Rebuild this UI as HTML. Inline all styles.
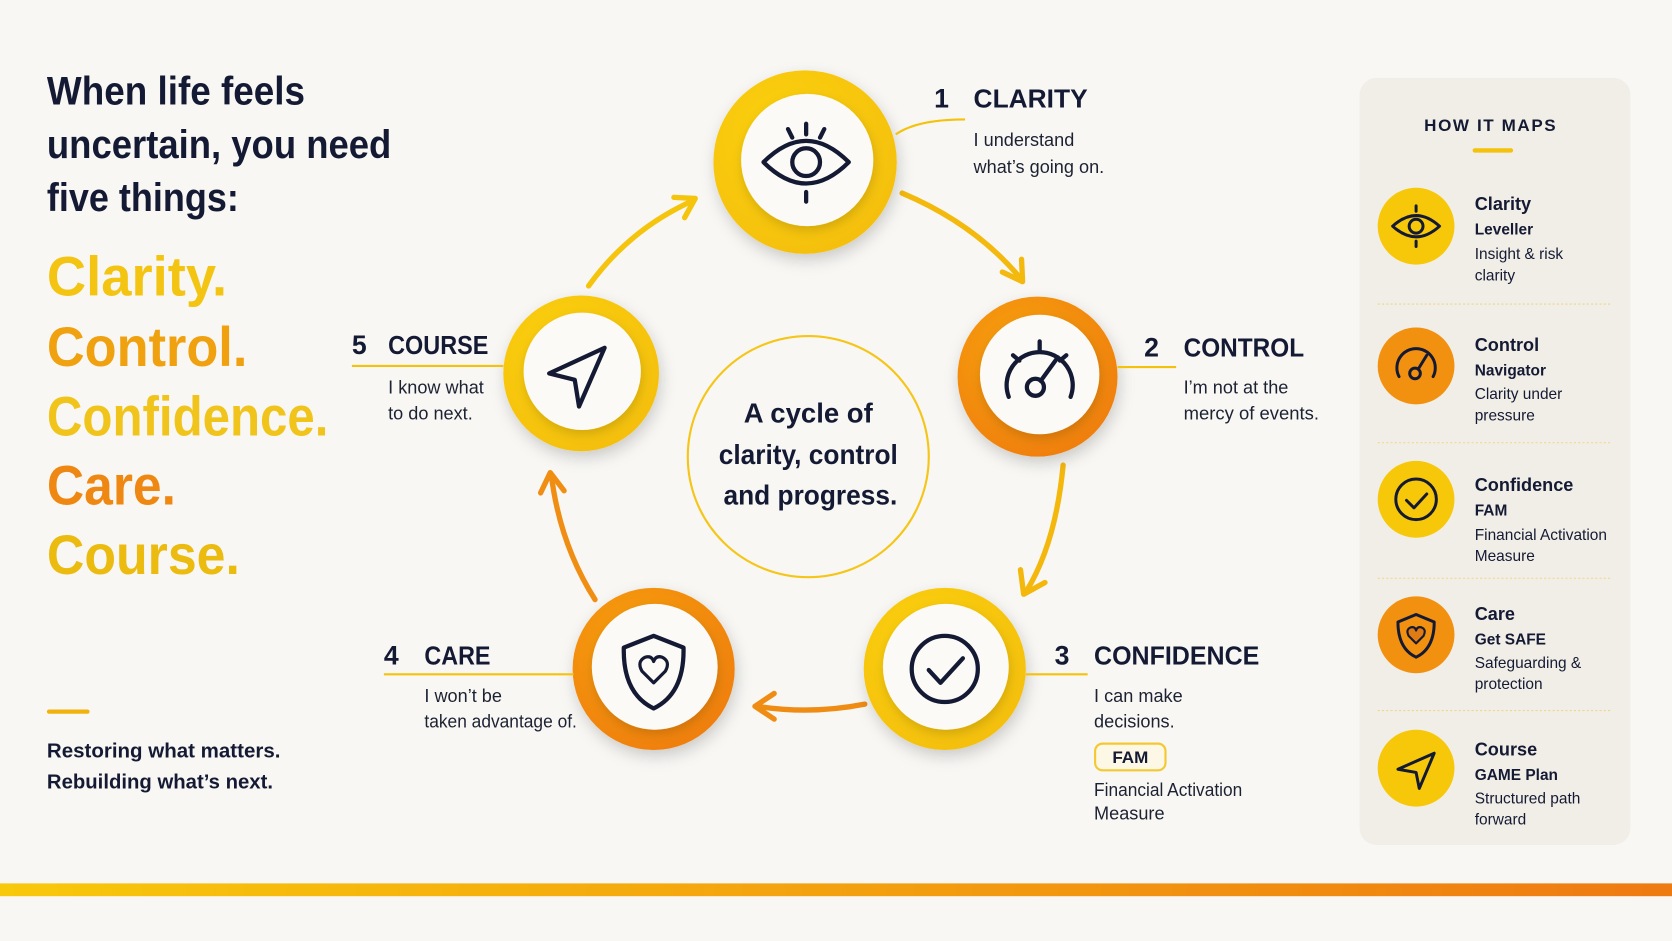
<!DOCTYPE html>
<html><head><meta charset="utf-8"><style>
html,body{margin:0;padding:0;background:#f8f7f4;}
svg{display:block;}
text{font-family:"Liberation Sans",sans-serif;}
</style></head><body>
<svg width="1672" height="941" viewBox="0 0 1568 882" preserveAspectRatio="none" xmlns="http://www.w3.org/2000/svg">
<defs>
<filter id="sh" x="-30%" y="-30%" width="160%" height="160%"><feDropShadow dx="2" dy="6" stdDeviation="7" flood-color="#000" flood-opacity="0.18"/></filter>
<filter id="sh2" x="-30%" y="-30%" width="160%" height="160%"><feDropShadow dx="1" dy="4" stdDeviation="5" flood-color="#000" flood-opacity="0.15"/></filter>
<linearGradient id="bar" x1="0" x2="1"><stop offset="0" stop-color="#f8c80a"/><stop offset="1" stop-color="#ee7a12"/></linearGradient>
<radialGradient id="org" cx="0.4" cy="0.35" r="0.7"><stop offset="0" stop-color="#f8a40c"/><stop offset="1" stop-color="#ef7e10"/></radialGradient>
<radialGradient id="yel" cx="0.4" cy="0.35" r="0.7"><stop offset="0" stop-color="#fcd20a"/><stop offset="1" stop-color="#f4bf0a"/></radialGradient>
</defs>
<rect width="1568" height="882" fill="#f8f7f4"/>

<!-- Title -->
<g fill="#141a33" font-weight="700" font-size="37" lengthAdjust="spacingAndGlyphs">
<text x="44" y="98" textLength="242" lengthAdjust="spacingAndGlyphs">When life feels</text>
<text x="44" y="148" textLength="323" lengthAdjust="spacingAndGlyphs">uncertain, you need</text>
<text x="44" y="198" textLength="180" lengthAdjust="spacingAndGlyphs">five things:</text>
</g>
<g font-weight="700" font-size="52">
<text x="44" y="277" fill="#f3c412" textLength="169" lengthAdjust="spacingAndGlyphs">Clarity.</text>
<text x="44" y="343" fill="#f0a10f" textLength="188" lengthAdjust="spacingAndGlyphs">Control.</text>
<text x="44" y="408" fill="#f0c41a" textLength="264" lengthAdjust="spacingAndGlyphs">Confidence.</text>
<text x="44" y="473" fill="#ee8812" textLength="121" lengthAdjust="spacingAndGlyphs">Care.</text>
<text x="44" y="538" fill="#ebbb10" textLength="181" lengthAdjust="spacingAndGlyphs">Course.</text>
</g>
<rect x="44" y="665" width="40" height="4" rx="2" fill="#f2b20e"/>
<g fill="#141a33" font-weight="700" font-size="19">
<text x="44" y="710" textLength="219" lengthAdjust="spacingAndGlyphs">Restoring what matters.</text>
<text x="44" y="739" textLength="212" lengthAdjust="spacingAndGlyphs">Rebuilding what’s next.</text>
</g>

<!-- bottom bar -->
<rect x="0" y="828" width="1568" height="12" fill="url(#bar)"/>

<!-- arrows -->
<g fill="none" stroke-width="5" stroke-linecap="round" stroke-linejoin="round">
<path d="M552,268 Q590,215 650,188" stroke="#f5c40c"/>
<path d="M632,185 L652,186 L642,204" stroke="#f5c40c"/>
<path d="M846,181 Q915,210 958,262" stroke="#f3b90c"/>
<path d="M940,255 L959,264 L958,243" stroke="#f3b90c"/>
<path d="M997,436 Q990,510 962,555" stroke="#f4b70c"/>
<path d="M957,534 L960,557 L980,546" stroke="#f4b70c"/>
<path d="M811,660 Q760,670 710,662" stroke="#ef8c14"/>
<path d="M726,650 L708,662 L726,674" stroke="#ef8c14"/>
<path d="M558,562 Q525,510 517,445" stroke="#f08e14"/>
<path d="M507,462 L516,443 L529,460" stroke="#f08e14"/>
</g>

<!-- center circle -->
<circle cx="758" cy="428" r="113" fill="none" stroke="#f5c518" stroke-width="2"/>
<g fill="#141a33" font-weight="700" font-size="26" text-anchor="middle">
<text x="758" y="396" textLength="121" lengthAdjust="spacingAndGlyphs">A cycle of</text>
<text x="758" y="435" textLength="168" lengthAdjust="spacingAndGlyphs">clarity, control</text>
<text x="760" y="473" textLength="163" lengthAdjust="spacingAndGlyphs">and progress.</text>
</g>

<!-- nodes -->
<g filter="url(#sh)">
<circle cx="755" cy="152" r="86" fill="url(#yel)"/>
<circle cx="973" cy="353" r="75" fill="url(#org)"/>
<circle cx="886" cy="627" r="76" fill="url(#yel)"/>
<circle cx="613" cy="627" r="76" fill="url(#org)"/>
<circle cx="545" cy="350" r="73" fill="url(#yel)"/>
</g>
<g filter="url(#sh2)" fill="#fbfaf6">
<circle cx="757" cy="150" r="62"/>
<circle cx="975" cy="351" r="56"/>
<circle cx="887" cy="625" r="59"/>
<circle cx="614" cy="625" r="59"/>
<circle cx="546" cy="348" r="55"/>
</g>

<!-- icons -->
<g fill="none" stroke="#141a33" stroke-width="4" stroke-linecap="round" stroke-linejoin="round">
<path d="M716,152 Q756,112 796,152 Q756,192 716,152 Z"/>
<circle cx="756" cy="152" r="13"/>
<path d="M756,116 V126 M739,121 L743,129 M773,121 L769,129 M756,180 V189"/>
<path d="M946,372 A31,31 0 1 1 1004,372"/>
<path d="M975,320 V328 M950,333 L956,338 M1000,333 L994,338"/>
<circle cx="971" cy="363" r="8"/>
<path d="M976,357 L992,335"/>
<circle cx="886" cy="627" r="31"/>
<path d="M871,628 L882,640 L903,617"/>
<path d="M613,596 L641,607 Q642,650 613,664 Q584,650 585,607 Z"/>
<path d="M613,640 L602,629 Q597,620 605,616 Q611,614 613,620 Q615,614 621,616 Q629,620 624,629 Z" stroke-width="3"/>
<path d="M515,350 L567,326 L543,381 L539,356 Z"/>
</g>

<!-- labels -->
<g fill="#141a33" font-weight="700">
<text x="876" y="101" font-size="25">1</text><text x="913" y="101" font-size="24" textLength="107" lengthAdjust="spacingAndGlyphs">CLARITY</text>
<text x="1073" y="334" font-size="25">2</text><text x="1110" y="334" font-size="24" textLength="113" lengthAdjust="spacingAndGlyphs">CONTROL</text>
<text x="989" y="623" font-size="25">3</text><text x="1026" y="623" font-size="24" textLength="155" lengthAdjust="spacingAndGlyphs">CONFIDENCE</text>
<text x="360" y="623" font-size="25">4</text><text x="398" y="623" font-size="24" textLength="62" lengthAdjust="spacingAndGlyphs">CARE</text>
<text x="330" y="332" font-size="25">5</text><text x="364" y="332" font-size="24" textLength="94" lengthAdjust="spacingAndGlyphs">COURSE</text>
</g>
<g stroke="#f4c20a" stroke-width="2" fill="none">
<path d="M840,126 Q860,112 905,112"/>
<path d="M1048,344 H1103"/>
<path d="M962,632 H1020"/>
<path d="M360,632 H538"/>
<path d="M330,343 H472"/>
</g>
<g fill="#1d2233" font-size="17">
<text x="913" y="137">I understand</text><text x="913" y="162">what’s going on.</text>
<text x="1110" y="369">I’m not at the</text><text x="1110" y="393" textLength="127" lengthAdjust="spacingAndGlyphs">mercy of events.</text>
<text x="1026" y="658">I can make</text><text x="1026" y="682">decisions.</text>
<text x="1026" y="746" textLength="139" lengthAdjust="spacingAndGlyphs">Financial Activation</text><text x="1026" y="768">Measure</text>
<text x="398" y="658">I won’t be</text><text x="398" y="682" textLength="143" lengthAdjust="spacingAndGlyphs">taken advantage of.</text>
<text x="364" y="369">I know what</text><text x="364" y="393">to do next.</text>
</g>
<rect x="1027" y="697" width="66" height="25" rx="7" fill="#fdf8e6" stroke="#f4c830" stroke-width="2"/>
<text x="1060" y="715" text-anchor="middle" font-size="16" font-weight="700" fill="#141a33">FAM</text>

<!-- right panel -->
<rect x="1275" y="73" width="254" height="719" rx="16" fill="#f1eee7"/>
<text x="1398" y="123" text-anchor="middle" font-size="16" font-weight="700" letter-spacing="1.5" fill="#141a33">HOW IT MAPS</text>
<rect x="1381" y="139" width="38" height="4" rx="2" fill="#f4c20a"/>
<g stroke="#f0d58a" stroke-width="1" stroke-dasharray="2,2">
<path d="M1292,285 H1512 M1292,415 H1512 M1292,542 H1512 M1292,666 H1512"/>
</g>
<circle cx="1328" cy="212" r="36" fill="#f7c80a"/>
<circle cx="1328" cy="343" r="36" fill="#f2900f"/>
<circle cx="1328" cy="468" r="36" fill="#f7c80a"/>
<circle cx="1328" cy="595" r="36" fill="#f2900f"/>
<circle cx="1328" cy="720" r="36" fill="#f7c80a"/>
<g fill="none" stroke="#141a33" stroke-width="2.8" stroke-linecap="round" stroke-linejoin="round">
<path d="M1306,212 Q1328,192 1350,212 Q1328,232 1306,212 Z"/><circle cx="1328" cy="212" r="6.5"/>
<path d="M1328,193 V198 M1328,226 V231"/>
<path d="M1312,353 A18,18 0 1 1 1344,353"/><circle cx="1327" cy="350" r="5"/><path d="M1330,346 L1338,333"/>
<circle cx="1328" cy="468" r="19"/><path d="M1319,469 L1326,476 L1338,463"/>
<path d="M1328,576 L1345,583 Q1345,608 1328,616 Q1311,608 1311,583 Z"/>
<path d="M1328,603 L1321,596 Q1318,590 1323,588 Q1327,587 1328,591 Q1329,587 1333,588 Q1338,590 1335,596 Z" fill="#e07a12" stroke-width="2"/>
<path d="M1311,721 L1345,706 L1331,739 L1328,724 Z"/>
</g>
<g fill="#141a33">
<g font-size="17" font-weight="700">
<text x="1383" y="197">Clarity</text><text x="1383" y="329">Control</text><text x="1383" y="460">Confidence</text><text x="1383" y="581">Care</text><text x="1383" y="708">Course</text>
</g>
<g font-size="14.5" font-weight="700">
<text x="1383" y="220">Leveller</text><text x="1383" y="352">Navigator</text><text x="1383" y="483">FAM</text><text x="1383" y="604">Get SAFE</text><text x="1383" y="731">GAME Plan</text>
</g>
<g font-size="14.5">
<text x="1383" y="243">Insight &amp; risk</text><text x="1383" y="263">clarity</text>
<text x="1383" y="374">Clarity under</text><text x="1383" y="394">pressure</text>
<text x="1383" y="506">Financial Activation</text><text x="1383" y="526">Measure</text>
<text x="1383" y="626">Safeguarding &amp;</text><text x="1383" y="646">protection</text>
<text x="1383" y="753">Structured path</text><text x="1383" y="773">forward</text>
</g>
</g>
</svg>
</body></html>
